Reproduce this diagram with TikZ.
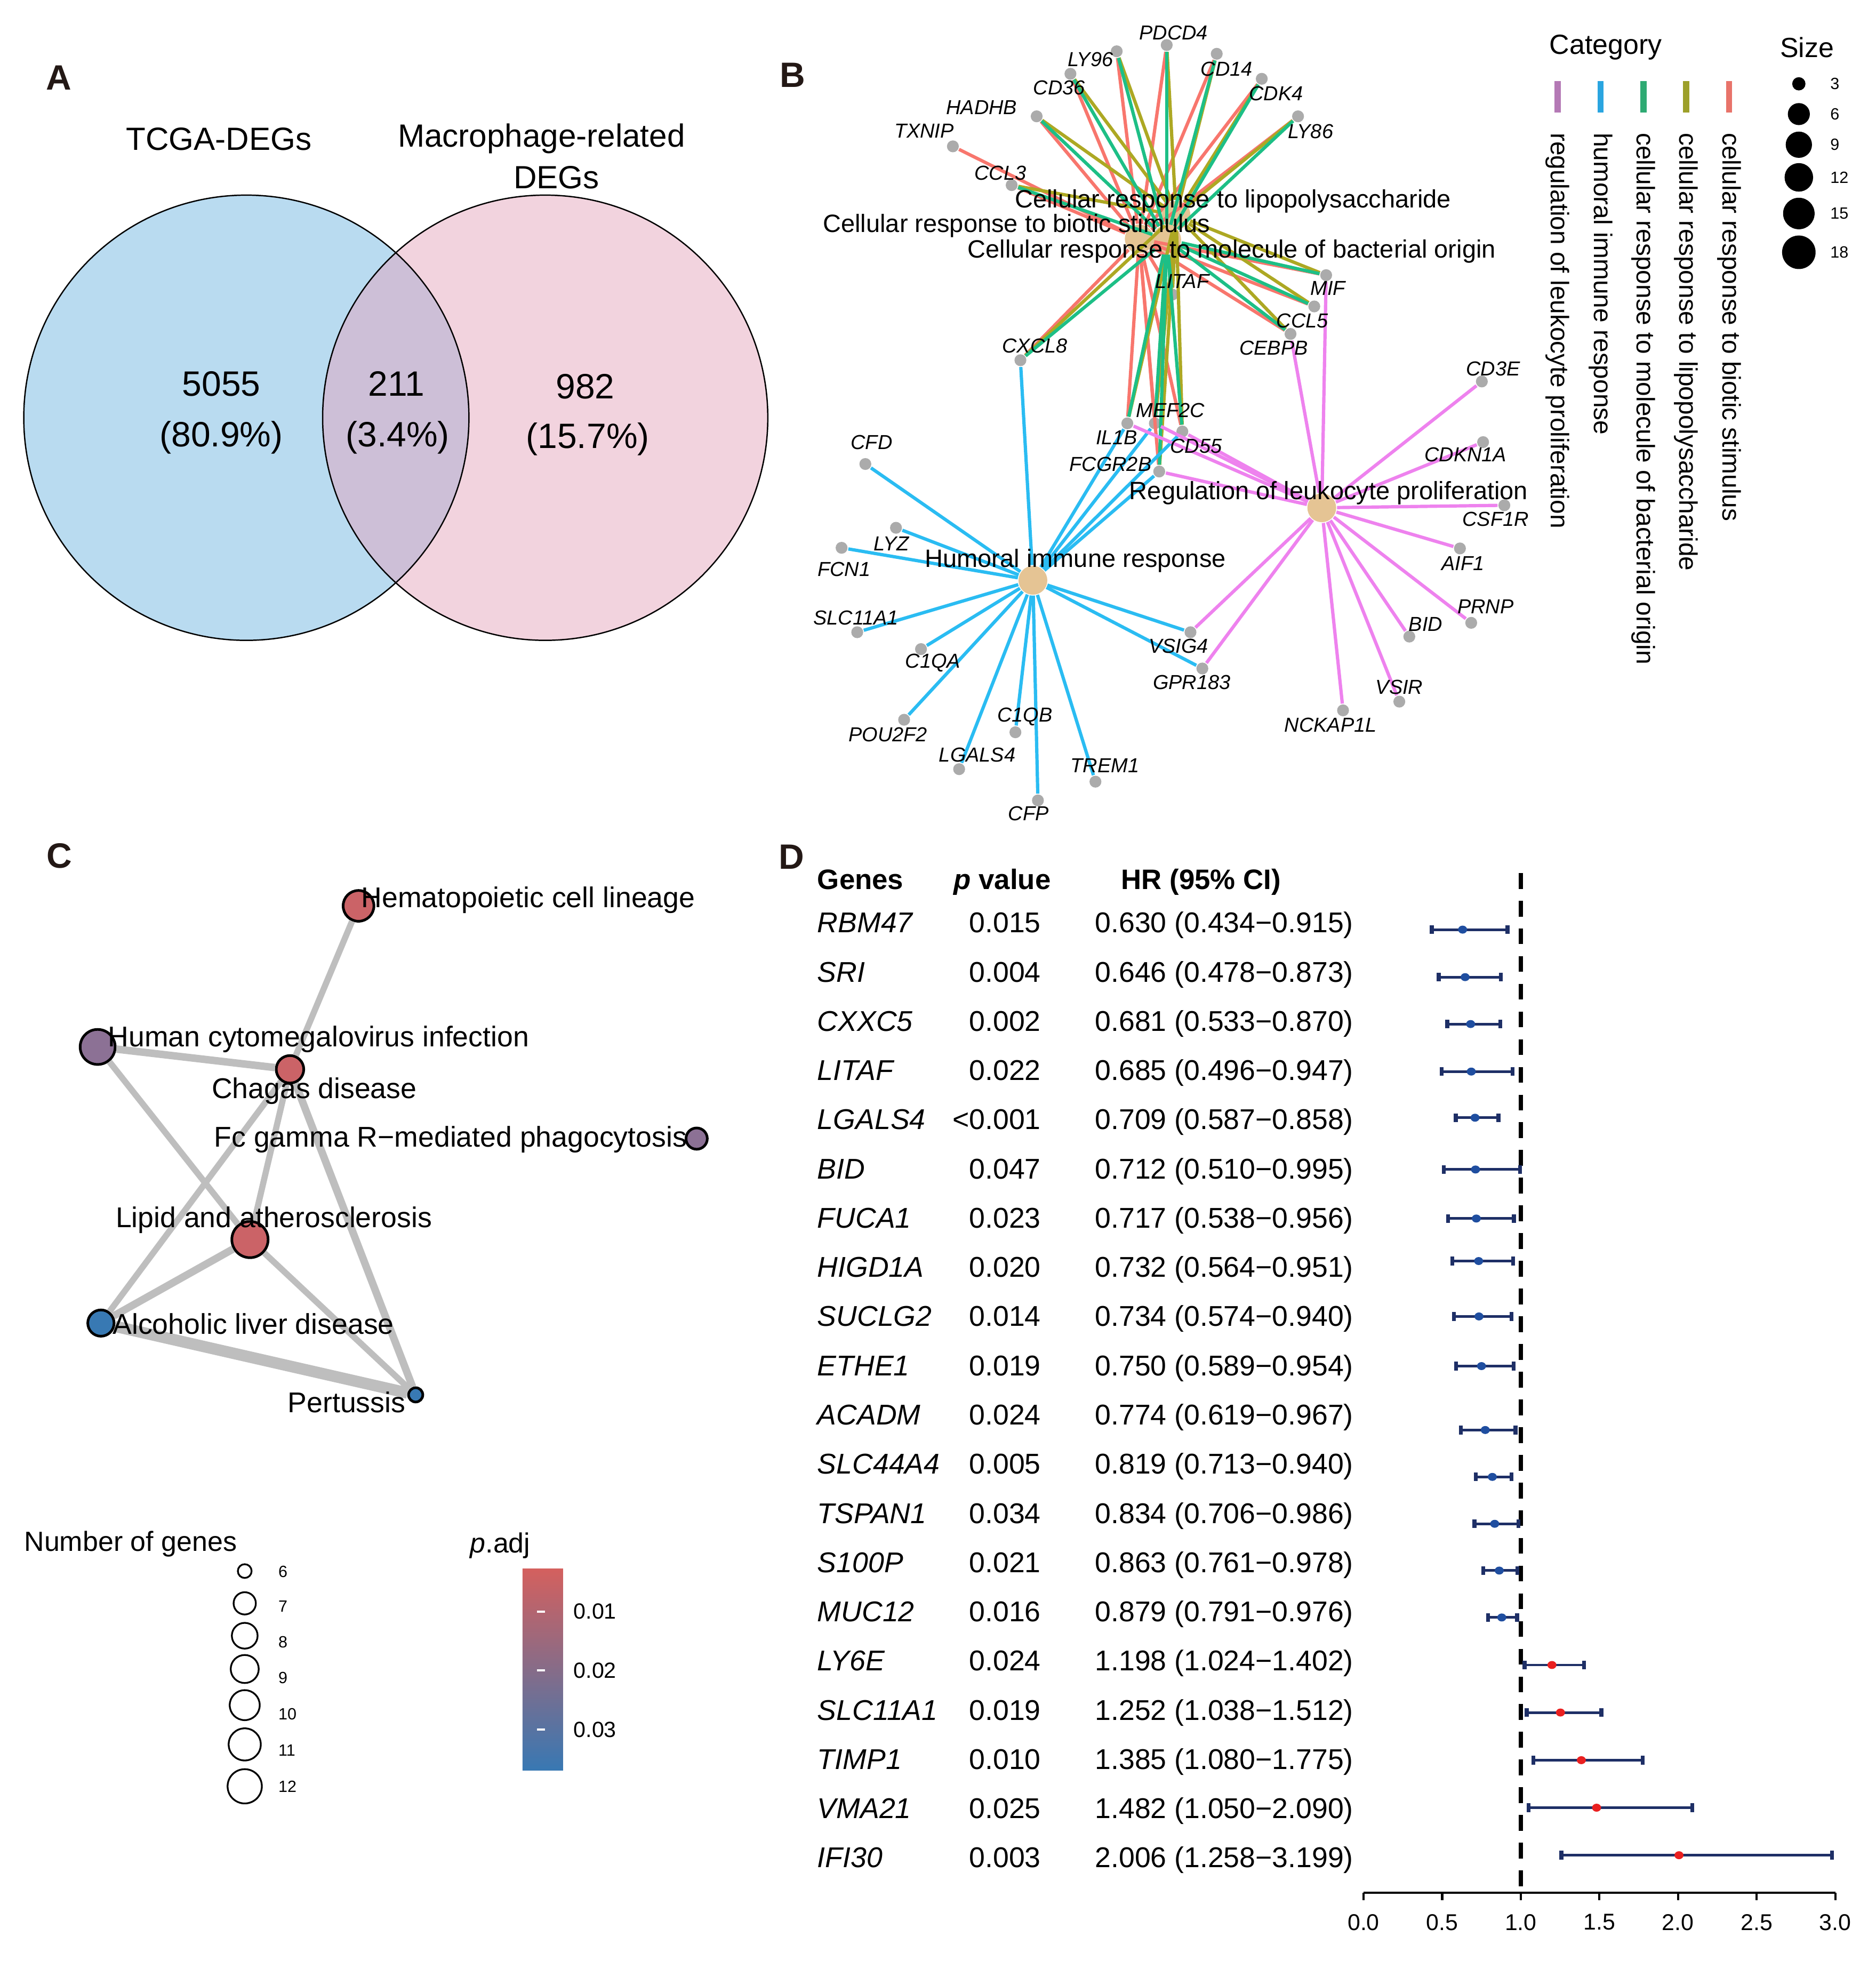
\documentclass[tikz,border=0pt]{standalone}
\usepackage{fontspec}
\setmainfont{Liberation Sans}
\usetikzlibrary{calc}
\newcommand{\fsz}[1]{\fontsize{#1}{#1}\selectfont}
\definecolor{labcol}{HTML}{231815}
\definecolor{vennA}{HTML}{B9DBF0}
\definecolor{vennB}{HTML}{F2D3DE}
\definecolor{vennAB}{HTML}{CDBFD7}
\definecolor{biocol}{HTML}{F8766D}
\definecolor{lpscol}{HTML}{ADA823}
\definecolor{molcol}{HTML}{1DBF86}
\definecolor{humcol}{HTML}{2ABCF2}
\definecolor{leucol}{HTML}{EE82EE}
\definecolor{genegray}{HTML}{ABABAB}
\definecolor{termtan}{HTML}{E5C494}
\definecolor{swleu}{HTML}{B479B5}
\definecolor{swhum}{HTML}{2AA5E0}
\definecolor{swmol}{HTML}{2EAA73}
\definecolor{swlps}{HTML}{9DA02A}
\definecolor{swbio}{HTML}{E8736A}
\definecolor{keggred}{HTML}{CB6367}
\definecolor{keggpur}{HTML}{8C7195}
\definecolor{keggblu}{HTML}{3879B3}
\definecolor{edgegray}{HTML}{BEBEBE}
\definecolor{padjhi}{HTML}{D4605E}
\definecolor{padjmid}{HTML}{9D7189}
\definecolor{padjlo}{HTML}{3878B3}
\definecolor{cinavy}{HTML}{1E2F66}
\definecolor{hrlow}{HTML}{1F4EA0}
\definecolor{hrhigh}{HTML}{EA2020}

\begin{document}
\begin{tikzpicture}[x=0.01cm,y=-0.01cm,
  panel/.style={font=\fsz{8}\bfseries,text=labcol},
  vlab/.style={font=\fsz{7.3}},
  vnum/.style={font=\fsz{8}},
  gene/.style={fill=genegray,circle,inner sep=0pt,minimum size=0.95mm},
  term/.style={fill=termtan,circle,inner sep=0pt,minimum size=2.3mm},
  glab/.style={font=\fsz{4.6}\itshape,inner sep=0pt},
  tlab/.style={font=\fsz{5.7},inner sep=0pt},
  bio/.style={draw=biocol,line width=0.75pt},
  lps/.style={draw=lpscol,line width=0.75pt},
  mol/.style={draw=molcol,line width=0.75pt},
  hum/.style={draw=humcol,line width=0.75pt},
  leu/.style={draw=leucol,line width=0.75pt},
  catlab/.style={font=\fsz{5.8},rotate=-90,anchor=west,inner sep=0pt},
  kegg/.style={circle,draw=black,line width=0.6pt,inner sep=0pt},
  klab/.style={font=\fsz{6.5},inner sep=0pt},
  kedge/.style={draw=edgegray},
  leglab/.style={font=\fsz{6.3},inner sep=0pt},
  smallnum/.style={font=\fsz{3.7},inner sep=0pt,anchor=west},
  tab/.style={font=\fsz{6.5},inner sep=0pt}]

\useasboundingbox (0,0) rectangle (1500,1568);
\fill [white] (0,0) rectangle (1500,1568);

% A: Venn
\node at (47,62) [panel] {A};
\fill [vennA] (197,334) circle (178);
\fill [vennB] (436,334) circle (178);
\begin{scope}
  \clip (197,334) circle (178);
  \fill [vennAB] (436,334) circle (178);
\end{scope}
\draw [line width=0.3pt] (197,334) circle (178) (436,334) circle (178);
\node at (175,111) [vlab] {TCGA-DEGs};
\node at (433,111) [vlab] {Macrophage-related};
\node at (445,142) [vlab] {DEGs};
\node at (177,307) [vnum] {5055};
\node at (177,350) [vnum] {(80.9\%)};
\node at (317,307) [vnum] {211};
\node at (318,350) [vnum] {(3.4\%)};
\node at (468,309) [vnum] {982};
\node at (470,351) [vnum] {(15.7\%)};

% B: gene-concept network
\node at (634,60) [panel] {B};
\node (bio) at (911,191) [term] {};
\node (mol) at (933,191.5) [term] {};
\node (lps) at (940.5,172) [term] {};
\node (hum) at (826,464) [term] {};
\node (leu) at (1057,406) [term] {};

\node (pdcd4) at (933,36) [gene] {};
\node (ly96) at (893,41) [gene] {};
\node (cd14) at (973,43) [gene] {};
\node (cd36) at (856,59) [gene] {};
\node (cdk4) at (1009,63) [gene] {};
\node (hadhb) at (829,93) [gene] {};
\node (ly86) at (1038,93) [gene] {};
\node (txnip) at (762,117) [gene] {};
\node (ccl3) at (809,148) [gene] {};
\node (mif) at (1060.5,220) [gene] {};
\node (litaf) at (937.5,235.5) [gene] {};
\node (ccl5) at (1051,245) [gene] {};
\node (cebpb) at (1032,267) [gene] {};
\node (cxcl8) at (816,288) [gene] {};
\node (cd3e) at (1185,305) [gene] {};
\node (il1b) at (901.5,338.5) [gene] {};
\node (mef2c) at (923.5,338.5) [gene] {};
\node (cd55) at (945.5,345) [gene] {};
\node (fcgr2b) at (927,377) [gene] {};
\node (cfd) at (692,371) [gene] {};
\node (lyz) at (716.5,422) [gene] {};
\node (fcn1) at (673,438) [gene] {};
\node (cdkn1a) at (1186,353.5) [gene] {};
\node (csf1r) at (1203,404) [gene] {};
\node (aif1) at (1167.5,438.5) [gene] {};
\node (prnp) at (1176.5,498) [gene] {};
\node (bid) at (1127,509) [gene] {};
\node (vsir) at (1119,561) [gene] {};
\node (nckap1l) at (1074,568) [gene] {};
\node (vsig4) at (952,505.5) [gene] {};
\node (gpr183) at (961.5,534.5) [gene] {};
\node (slc11a1) at (685.5,505.5) [gene] {};
\node (c1qa) at (736.5,519) [gene] {};
\node (pou2f2) at (723,575.5) [gene] {};
\node (c1qb) at (812,585.5) [gene] {};
\node (lgals4) at (767,615) [gene] {};
\node (trem1) at (876,625) [gene] {};
\node (cfp) at (830,640) [gene] {};

\draw [bio] (bio) edge (txnip) edge (ccl3) edge (hadhb) edge (cd36) edge (ly96) edge (pdcd4)
  edge (cd14) edge (cdk4) edge (ly86) edge (mif) edge (ccl5) edge (cebpb) edge (litaf)
  edge (cxcl8) edge (il1b) edge (mef2c) edge (cd55) edge (fcgr2b);
\draw [lps] (lps) edge (ccl3) edge (hadhb) edge (cd36) edge (ly96) edge (pdcd4)
  edge (cd14) edge (cdk4) edge (ly86) edge (mif) edge (ccl5) edge (cebpb) edge (litaf)
  edge (cxcl8) edge (il1b) edge (mef2c) edge (cd55) edge (fcgr2b);
\draw [mol] (mol) edge (ccl3) edge (hadhb) edge (cd36) edge (ly96) edge (pdcd4)
  edge (cd14) edge (cdk4) edge (ly86) edge (mif) edge (ccl5) edge (cebpb) edge (litaf)
  edge (cxcl8) edge (il1b) edge (mef2c) edge (cd55) edge (fcgr2b);
\draw [hum] (hum) edge (cxcl8) edge (cfd) edge (lyz) edge (fcn1) edge (slc11a1) edge (c1qa)
  edge (pou2f2) edge (lgals4) edge (c1qb) edge (cfp) edge (trem1) edge (vsig4) edge (gpr183)
  edge (il1b) edge (mef2c) edge (cd55) edge (fcgr2b);
\draw [leu] (leu) edge (cebpb) edge (mif) edge (cd3e) edge (cdkn1a) edge (csf1r) edge (aif1)
  edge (prnp) edge (bid) edge (vsir) edge (nckap1l) edge (gpr183) edge (vsig4)
  edge (il1b) edge (mef2c) edge (cd55) edge (fcgr2b);

\node at (938.5,26) [glab] {PDCD4};
\node at (872,47.5) [glab] {LY96};
\node at (981,55) [glab] {CD14};
\node at (847,70) [glab] {CD36};
\node at (1020.5,75) [glab] {CDK4};
\node at (785,86) [glab] {HADHB};
\node at (1048,105) [glab] {LY86};
\node at (739,104.5) [glab] {TXNIP};
\node at (800,138.5) [glab] {CCL3};
\node at (1062,230.5) [glab] {MIF};
\node at (945.5,225) [glab] {LITAF};
\node at (1041.5,256.5) [glab] {CCL5};
\node at (1018.5,278) [glab] {CEBPB};
\node at (827.5,276.5) [glab] {CXCL8};
\node at (1194,295) [glab] {CD3E};
\node at (893,350) [glab] {IL1B};
\node at (936,328) [glab] {MEF2C};
\node at (956.5,356.5) [glab] {CD55};
\node at (888,371) [glab] {FCGR2B};
\node at (697,353.5) [glab] {CFD};
\node at (713,434.5) [glab] {LYZ};
\node at (675,455) [glab] {FCN1};
\node at (1172,363.5) [glab] {CDKN1A};
\node at (1196,415) [glab] {CSF1R};
\node at (1170,450.5) [glab] {AIF1};
\node at (1188,485) [glab] {PRNP};
\node at (1140,499) [glab] {BID};
\node at (1119,549.5) [glab] {VSIR};
\node at (1064,579.5) [glab] {NCKAP1L};
\node at (942.5,516.5) [glab] {VSIG4};
\node at (953,545.5) [glab] {GPR183};
\node at (684.5,494) [glab] {SLC11A1};
\node at (746,530) [glab] {C1QA};
\node at (710,587.5) [glab] {POU2F2};
\node at (819.5,573) [glab] {C1QB};
\node at (781.5,603.5) [glab] {LGALS4};
\node at (883.5,612) [glab] {TREM1};
\node at (822.5,650.5) [glab] {CFP};

\node at (986,161) [tlab] {Cellular response to lipopolysaccharide};
\node at (813,180.5) [tlab] {Cellular response to biotic stimulus};
\node at (985,201) [tlab] {Cellular response to molecule of bacterial origin};
\node at (860,448.5) [tlab] {Humoral immune response};
\node at (1062.5,394) [tlab] {Regulation of leukocyte proliferation};

% B: legends
\node at (1284,38) [leglab] {Category};
\draw [swleu,line width=1.4pt] (1245.5,65) -- (1245.5,90);
\draw [swhum,line width=1.4pt] (1280,65) -- (1280,90);
\draw [swmol,line width=1.4pt] (1314.3,65) -- (1314.3,90);
\draw [swlps,line width=1.4pt] (1348.3,65) -- (1348.3,90);
\draw [swbio,line width=1.4pt] (1382.8,65) -- (1382.8,90);
\node at (1245.5,105.5) [catlab] {regulation of leukocyte proliferation};
\node at (1280,105.5) [catlab] {humoral immune response};
\node at (1314.3,105.5) [catlab] {cellular response to molecule of bacterial origin};
\node at (1348.3,105.5) [catlab] {cellular response to lipopolysaccharide};
\node at (1382.8,105.5) [catlab] {cellular response to biotic stimulus};
\node at (1445,38) [leglab] {Size};
\fill (1438.5,67) circle (5.3);
\fill (1438.5,91.2) circle (8.8);
\fill (1438.5,115.7) circle (10.5);
\fill (1438.5,141.8) circle (11.4);
\fill (1438.5,170.7) circle (12.6);
\fill (1438.5,201.7) circle (13.4);
\node at (1463,67) [smallnum] {3};
\node at (1463,91.2) [smallnum] {6};
\node at (1463,115.7) [smallnum] {9};
\node at (1463,141.8) [smallnum] {12};
\node at (1463,170.7) [smallnum] {15};
\node at (1463,201.7) [smallnum] {18};

% C: pathway network
\node at (47.5,684.5) [panel] {C};
\node (hem) at (286.7,724.3) [kegg,fill=keggred,minimum size=2.46mm] {};
\node (hcmv) at (78.1,837.1) [kegg,fill=keggpur,minimum size=2.8mm] {};
\node (chagas) at (231.9,855) [kegg,fill=keggred,minimum size=2.2mm] {};
\node (fcgr) at (557.1,910.4) [kegg,fill=keggpur,minimum size=1.7mm] {};
\node (lipid) at (199.9,991.1) [kegg,fill=keggred,minimum size=2.9mm] {};
\node (alc) at (80.7,1057.9) [kegg,fill=keggblu,minimum size=2.1mm] {};
\node (pert) at (332.4,1115.3) [kegg,fill=keggblu,minimum size=1.14mm] {};

\draw [kedge,line width=1.4pt] (hem) to (chagas);
\draw [kedge,line width=1.7pt] (hcmv) to (chagas);
\draw [kedge,line width=1.4pt] (hcmv) to (lipid);
\draw [kedge,line width=1.4pt] (chagas) to (alc);
\draw [kedge,line width=1.4pt] (chagas) to (lipid);
\draw [kedge,line width=1.7pt] (chagas) to (pert);
\draw [kedge,line width=1.7pt] (lipid) to (alc);
\draw [kedge,line width=1.4pt] (lipid) to (pert);
\draw [kedge,line width=2.6pt] (alc) to (pert);

\node at (288.3,719.8) [klab,anchor=west] {Hematopoietic cell lineage};
\node at (85.7,831) [klab,anchor=west] {Human cytomegalovirus infection};
\node at (251.3,872.4) [klab] {Chagas disease};
\node at (550,911.3) [klab,anchor=east] {Fc gamma R\char"2212 mediated phagocytosis};
\node at (219,975.3) [klab] {Lipid and atherosclerosis};
\node at (89.5,1058.5) [klab,anchor=west] {Alcoholic liver disease};
\node at (277.2,1121.3) [klab] {Pertussis};

% C: legends
\node at (104.4,1234.4) [leglab] {Number of genes};
\draw [line width=0.4pt] (195.7,1256.2) circle (5.5);
\draw [line width=0.4pt] (195.7,1282) circle (8.9);
\draw [line width=0.4pt] (195.7,1307.9) circle (10.3);
\draw [line width=0.4pt] (195.7,1334.5) circle (11.2);
\draw [line width=0.4pt] (195.7,1363.4) circle (12);
\draw [line width=0.4pt] (195.7,1394.8) circle (12.85);
\draw [line width=0.4pt] (195.7,1428.3) circle (13.7);
\node at (222,1256.5) [smallnum] {6};
\node at (222,1284.5) [smallnum] {7};
\node at (222,1313) [smallnum] {8};
\node at (222,1341.5) [smallnum] {9};
\node at (222,1370.5) [smallnum] {10};
\node at (222,1399.5) [smallnum] {11};
\node at (222,1428.3) [smallnum] {12};
\node at (400,1236) [leglab] {\textit{p}.adj};
\shade [top color=padjhi,middle color=padjmid,bottom color=padjlo] (417.8,1254.2) rectangle (450.3,1415.7);
\draw [white,line width=0.5pt] (429.5,1288.5) -- (436,1288.5) (429.5,1335.7) -- (436,1335.7) (429.5,1383) -- (436,1383);
\node at (458,1288.5) [font=\fsz{5},inner sep=0pt,anchor=west] {0.01};
\node at (458,1335.7) [font=\fsz{5},inner sep=0pt,anchor=west] {0.02};
\node at (458,1383) [font=\fsz{5},inner sep=0pt,anchor=west] {0.03};

% D: forest plot
\node at (633,685) [panel] {D};
\node at (653,711) [tab,font=\fsz{6.4}\bfseries,anchor=base west] {Genes};
\node at (762,711) [tab,font=\fsz{6.4}\bfseries,anchor=base west] {\textit{p} value};
\node at (896,711) [tab,font=\fsz{6.4}\bfseries,anchor=base west] {HR (95\% CI)};
\foreach \g/\p/\h [count=\i from 0] in {RBM47/0.015/0.630 (0.434−0.915),SRI/0.004/0.646 (0.478−0.873),
  CXXC5/0.002/0.681 (0.533−0.870),LITAF/0.022/0.685 (0.496−0.947),LGALS4/<0.001/0.709 (0.587−0.858),
  BID/0.047/0.712 (0.510−0.995),FUCA1/0.023/0.717 (0.538−0.956),HIGD1A/0.020/0.732 (0.564−0.951),
  SUCLG2/0.014/0.734 (0.574−0.940),ETHE1/0.019/0.750 (0.589−0.954),ACADM/0.024/0.774 (0.619−0.967),
  SLC44A4/0.005/0.819 (0.713−0.940),TSPAN1/0.034/0.834 (0.706−0.986),S100P/0.021/0.863 (0.761−0.978),
  MUC12/0.016/0.879 (0.791−0.976),LY6E/0.024/1.198 (1.024−1.402),SLC11A1/0.019/1.252 (1.038−1.512),
  TIMP1/0.010/1.385 (1.080−1.775),VMA21/0.025/1.482 (1.050−2.090),IFI30/0.003/2.006 (1.258−3.199)}
{
  \node at (653,{745.7+39.35*\i}) [tab,anchor=base west] {\textit{\g}};
  \node at (833,{745.7+39.35*\i}) [tab,anchor=base east] {\p};
  \node at (875,{745.7+39.35*\i}) [tab,anchor=base west] {\h};
}
\draw [line width=0.9pt,dash pattern=on 3.6pt off 2.7pt] (1216.1,698) -- (1216.1,1513.5);
\foreach \y/\lo/\hr/\hi/\c in {743.3/0.434/0.630/0.915/hrlow,781.3/0.478/0.646/0.873/hrlow,
  818.8/0.533/0.681/0.870/hrlow,856.8/0.496/0.685/0.947/hrlow,893.7/0.587/0.709/0.858/hrlow,
  935.1/0.510/0.712/0.995/hrlow,974.3/0.538/0.717/0.956/hrlow,1008.3/0.564/0.732/0.951/hrlow,
  1052.6/0.574/0.734/0.940/hrlow,1092.3/0.589/0.750/0.954/hrlow,1143.4/0.619/0.774/0.967/hrlow,
  1180.9/0.713/0.819/0.940/hrlow,1218.4/0.706/0.834/0.986/hrlow,1255.8/0.761/0.863/0.978/hrlow,
  1293.3/0.791/0.879/0.976/hrlow,1331.3/1.024/1.198/1.402/hrhigh,1369.3/1.038/1.252/1.512/hrhigh,
  1407.4/1.080/1.385/1.775/hrhigh,1445.4/1.050/1.482/2.090/hrhigh,1483.4/1.258/2.006/2.98/hrhigh}
{
  \draw [cinavy,line width=0.6pt] ({1090.4+\lo*125.75},\y) -- ({1090.4+\hi*125.75},\y);
  \draw [cinavy,line width=0.9pt] ({1090.4+\lo*125.75},\y-3.5) -- ({1090.4+\lo*125.75},\y+3.5)
    ({1090.4+\hi*125.75},\y-3.5) -- ({1090.4+\hi*125.75},\y+3.5);
  \fill [\c] ({1090.4+\hr*125.75},\y) ellipse (3.6 and 3.2);
}
\draw [line width=0.5pt] (1090.4,1513.5) -- (1467.7,1513.5);
\foreach \v in {0.0,0.5,1.0,1.5,2.0,2.5,3.0}
{
  \draw [line width=0.5pt] ({1090.4+\v*125.75},1513.5) -- ({1090.4+\v*125.75},1519.5);
  \node at ({1090.4+\v*125.75},1537) [font=\fsz{5.2},inner sep=0pt] {\v};
}
\end{tikzpicture}
\end{document}
